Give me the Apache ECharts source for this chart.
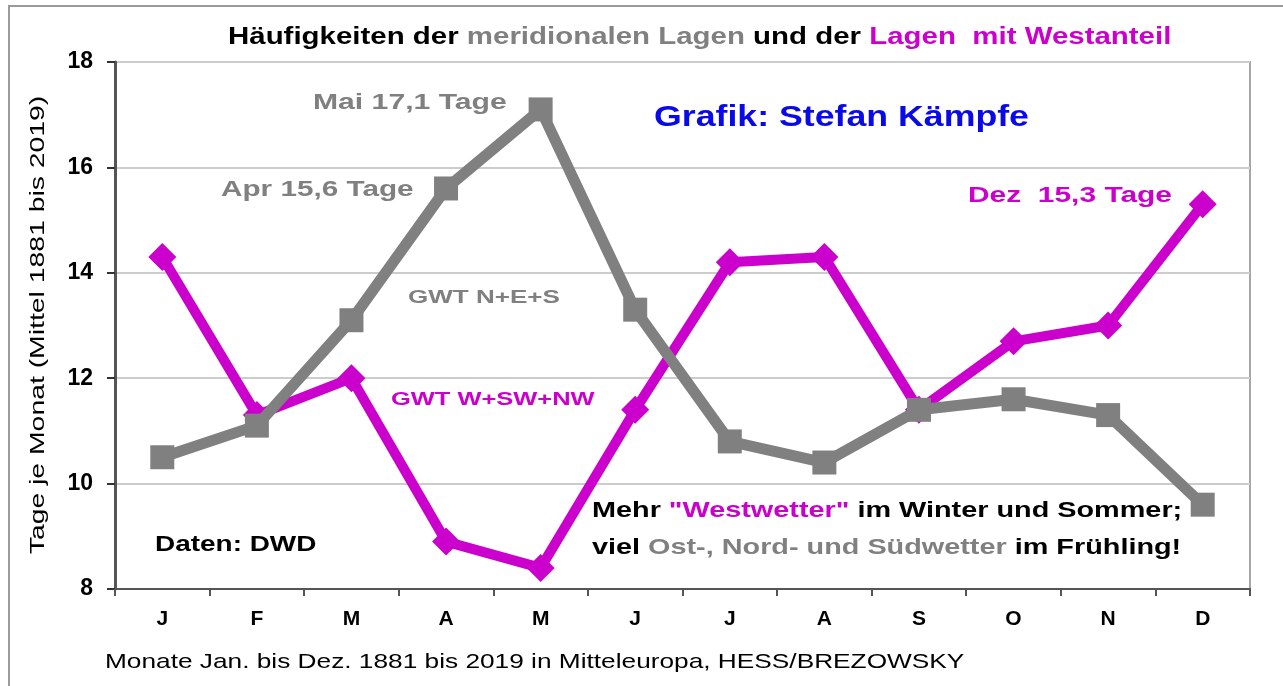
<!DOCTYPE html>
<html>
<head>
<meta charset="utf-8">
<script src="https://cdn.jsdelivr.net/npm/echarts@6/dist/echarts.min.js"></script>
<style>
    html, body { margin: 0; padding: 0; background: #fff; }
    #main { width: 1283px; height: 686px; }
</style>
</head>
<body>
<div id="main"></div>
<script>
    // Monate
    var months = ['J', 'F', 'M', 'A', 'M', 'J', 'J', 'A', 'S', 'O', 'N', 'D'];
    // GWT W+SW+NW (Lagen mit Westanteil)
    var westData = [14.3, 11.3, 12.0, 8.9, 8.4, 11.4, 14.2, 14.3, 11.4, 12.7, 13.0, 15.3];
    // GWT N+E+S (meridionale Lagen)
    var meridData = [10.5, 11.1, 13.1, 15.6, 17.1, 13.3, 10.8, 10.4, 11.4, 11.6, 11.3, 9.6];
    var yTicks = [8, 10, 12, 14, 16, 18];

    var font = 'Liberation Sans, Arial, sans-serif';
    var magenta = '#cc00cc';
    var grau = '#808080';

    var myChart = echarts.init(document.getElementById('main'));

    // Textbaustein, etwas breiter gezogen wie im Original
    function txt(x, y, text, color, size, sx, bold) {
        return {
            type: 'text', x: x, y: y, scaleX: sx, silent: true,
            style: {
                text: text, fill: color,
                font: (bold === false ? '' : 'bold ') + size + 'px ' + font,
                textVerticalAlign: 'middle'
            }
        };
    }

    function rich(size, lh) {
        return {
            k: { fill: '#000', fontSize: size, fontWeight: 'bold', fontFamily: font, lineHeight: lh },
            g: { fill: grau, fontSize: size, fontWeight: 'bold', fontFamily: font, lineHeight: lh },
            m: { fill: magenta, fontSize: size, fontWeight: 'bold', fontFamily: font, lineHeight: lh }
        };
    }

    var option = {
        backgroundColor: '#fff',
        animation: false,
        grid: {
            left: 115,
            top: 62,
            right: 33,
            bottom: 97,
            show: true,
            borderColor: '#a6a6a6',
            borderWidth: 2
        },
        xAxis: {
            type: 'category',
            data: months,
            boundaryGap: true,
            axisLine: { lineStyle: { color: '#555', width: 2 } },
            axisTick: { show: true, interval: 0, length: 7, lineStyle: { color: '#555', width: 2 } },
            axisLabel: { interval: 0, margin: 20, color: '#000', fontSize: 21, fontWeight: 'bold', fontFamily: font }
        },
        yAxis: {
            type: 'value',
            min: yTicks[0],
            max: yTicks[yTicks.length - 1],
            interval: 2,
            axisLine: { show: true, lineStyle: { color: '#555', width: 3 } },
            axisTick: { show: true, length: 8, lineStyle: { color: '#333', width: 2 } },
            axisLabel: { margin: 22, color: '#000', fontSize: 23, fontWeight: 'bold', fontFamily: font },
            splitLine: { lineStyle: { color: '#cccccc', width: 2 } }
        },
        series: [
            {
                name: 'GWT W+SW+NW',
                type: 'line',
                data: westData,
                symbol: 'diamond',
                symbolSize: 28,
                itemStyle: { color: magenta },
                lineStyle: { color: magenta, width: 10 },
                z: 2
            },
            {
                name: 'GWT N+E+S',
                type: 'line',
                data: meridData,
                symbol: 'rect',
                symbolSize: 24,
                itemStyle: { color: grau },
                lineStyle: { color: grau, width: 11 },
                z: 3
            }
        ],
        graphic: [
            {
                type: 'rect',
                shape: { x: 9, y: 6, width: 1300, height: 720 },
                style: { fill: 'none', stroke: '#9a9a9a', lineWidth: 2 },
                silent: true,
                z: -1
            },
            {
                type: 'text', x: 228, y: 38, scaleX: 1.28, silent: true,
                style: {
                    text: '{k|Häufigkeiten der }{g|meridionalen Lagen}{k| und der }{m|Lagen  mit Westanteil}',
                    rich: rich(23, 30),
                    textVerticalAlign: 'middle'
                }
            },
            // y-Achsentitel
            {
                type: 'text', x: 38, y: 325, rotation: Math.PI / 2, scaleX: 1.35, silent: true,
                style: {
                    text: 'Tage je Monat (Mittel 1881 bis 2019)', fill: '#000',
                    font: '21px ' + font, textAlign: 'center', textVerticalAlign: 'middle'
                }
            },
            txt(313, 103, 'Mai 17,1 Tage', grau, 22, 1.37),
            txt(221, 190, 'Apr 15,6 Tage', grau, 22, 1.35),
            txt(654, 118, 'Grafik: Stefan Kämpfe', '#0a0ae8', 30, 1.19),
            txt(968, 196, 'Dez  15,3 Tage', magenta, 22, 1.36),
            txt(408, 298, 'GWT N+E+S', grau, 19, 1.37),
            txt(391, 400, 'GWT W+SW+NW', magenta, 19, 1.34),
            {
                type: 'text', x: 592, y: 529, scaleX: 1.31, silent: true,
                style: {
                    text: '{k|Mehr }{m|"Westwetter"}{k| im Winter und Sommer;}\n{k|viel }{g|Ost-, Nord- und Südwetter}{k| im Frühling!}',
                    rich: rich(22, 37),
                    textVerticalAlign: 'middle'
                }
            },
            txt(155, 545, 'Daten: DWD', '#000', 22, 1.27),
            txt(105, 662, 'Monate Jan. bis Dez. 1881 bis 2019 in Mitteleuropa, HESS/BREZOWSKY', '#000', 21, 1.25, false)
        ]
    };

    if (option && typeof option === "object") {
        myChart.setOption(option, true);
    }
</script>
</body>
</html>
